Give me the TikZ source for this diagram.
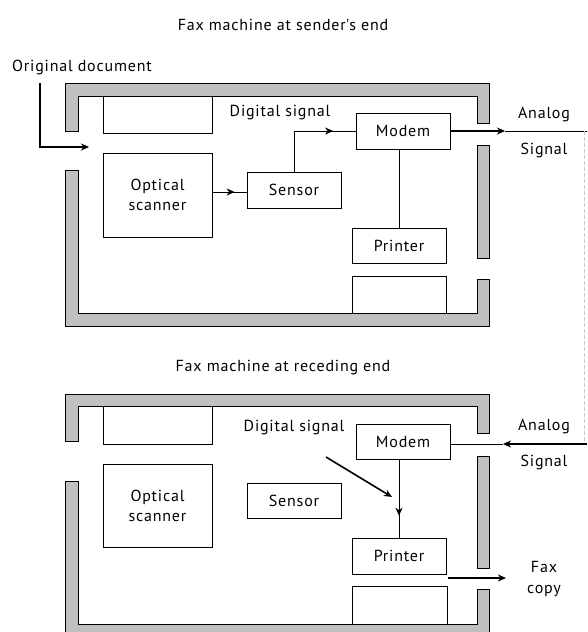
\documentclass[tikz,border=0pt]{standalone}
\usepackage{fontspec}
\setmainfont{PT Sans}[LetterSpace=5]
\usetikzlibrary{arrows.meta,decorations.markings,calc}
\definecolor{framegray}{RGB}{192,192,192}
\definecolor{dashgray}{RGB}{200,200,200}
\tikzset{
  wall/.style={draw=black,fill=framegray,line width=0.9pt},
  unit/.style={draw,line width=0.8pt,minimum width=#1,inner sep=0pt,align=center,font=\fontsize{16}{20}\selectfont},
  lbl/.style={inner sep=0pt,font=\fontsize{16}{20}\selectfont},
  wire/.style={line width=0.8pt},
  thick wire/.style={line width=1.8pt},
  tip/.style={-{Stealth[length=8pt,width=7pt,inset=2.5pt]}},
  midarr/.style={postaction={decorate,decoration={markings,mark=at position #1 with {\arrow{Stealth[length=8pt,width=7pt,inset=2.5pt]}}}}}
}
\begin{document}
\begin{tikzpicture}[x=1pt,y=-1pt]
\useasboundingbox (0,0) rectangle (587,632);

% ---------- Sender ----------
\node[lbl] (t1) at (283,25) {Fax machine at sender\textquotesingle s end};
\node[lbl] (orig) at (82,67) {Original document};
\draw[wall] (65,131) -- (65,83) -- (489,83) -- (489,123) -- (477,123) -- (477,96) -- (78,96) -- (78,131) -- cycle;
\draw[wall] (477,145) rectangle (489,258);
\draw[wall] (489,279) -- (489,326) -- (65,326) -- (65,170) -- (78,170) -- (78,313) -- (477,313) -- (477,279) -- cycle;
\node[unit=109pt,minimum height=37pt] (tray1) at (157.5,114.5) {};
\node[unit=109pt,minimum height=84pt] (scan1) at (157.5,195) {Optical\\scanner};
\node[unit=94pt,minimum height=36pt] (sens1) at (294,190) {Sensor};
\node[unit=94pt,minimum height=36pt] (modem1) at (403,131) {Modem};
\node[unit=94pt,minimum height=35pt] (print1) at (399,245.5) {Printer};
\node[unit=94pt,minimum height=37pt] (out1) at (399,294.5) {};
\node[lbl] (dig1) at (280,113) {Digital signal};
\node[lbl] (an1) at (544,115) {Analog};
\node[lbl] (sg1) at (544,150) {Signal};
\coordinate (origtop) at (40,83);
\coordinate (origend) at (89,147);
\draw[wire,line width=1.4pt,tip] (origtop) |- (origend);
\draw[wire,midarr=0.65] (scan1.east |- 0,192) -- (sens1.west |- 0,192);
\draw[wire,midarr=0.78] (sens1.north) |- (modem1.west);
\coordinate (an1tip) at (505,131);
\coordinate (an1end) at (587,131);
\draw[thick wire,tip] (modem1.east) -- (an1tip);
\draw[wire] (an1tip) -- (an1end);
\draw[wire] (modem1.south -| print1.north) -- (print1.north);
\coordinate (dtop) at (584,131);
\coordinate (dbot) at (584,444);
\draw[dashgray,line width=0.8pt,dash pattern=on 4pt off 2pt] (dtop) -- (dbot);

% ---------- Receiver ----------
\node[lbl] (t2) at (283,368) {Fax machine at receding end};
\draw[wall] (65,441) -- (65,394) -- (489,394) -- (489,433) -- (477,433) -- (477,406) -- (78,406) -- (78,441) -- cycle;
\draw[wall] (477,456) rectangle (489,568);
\draw[wall] (489,589) -- (489,637) -- (65,637) -- (65,481) -- (78,481) -- (78,624) -- (477,624) -- (477,589) -- cycle;
\node[unit=109pt,minimum height=38pt] (tray2) at (157.5,425) {};
\node[unit=109pt,minimum height=83pt] (scan2) at (157.5,505.5) {Optical\\scanner};
\node[unit=94pt,minimum height=35pt] (sens2) at (294,500.5) {Sensor};
\node[unit=94pt,minimum height=35pt] (modem2) at (403,441.5) {Modem};
\node[unit=94pt,minimum height=36pt] (print2) at (399,556) {Printer};
\node[unit=95pt,minimum height=38pt] (out2) at (399.5,605) {};
\node[lbl] (dig2) at (294,428) {Digital signal};
\node[lbl] (an2) at (544,427) {Analog};
\node[lbl] (sg2) at (544,462) {Signal};
\node[lbl] (fax) at (544,567) {Fax};
\node[lbl] (copy) at (544,591) {copy};
\coordinate (an2start) at (587,444);
\coordinate (an2tip) at (503,444);
\draw[thick wire,tip] (an2start) -- (an2tip);
\draw[wire] (an2tip) -- (modem2.east |- an2tip);
\draw[wire,midarr=0.72] (modem2.south -| print2.north) -- (print2.north);
\coordinate (dgs) at (326,457);
\coordinate (dge) at (392,497);
\draw[thick wire,line width=1.6pt,tip] (dgs) -- (dge);
\coordinate (fxs) at (448,578);
\coordinate (fxe) at (506,578);
\draw[thick wire,line width=1.6pt,tip] (fxs) -- (fxe);
\end{tikzpicture}
\end{document}
